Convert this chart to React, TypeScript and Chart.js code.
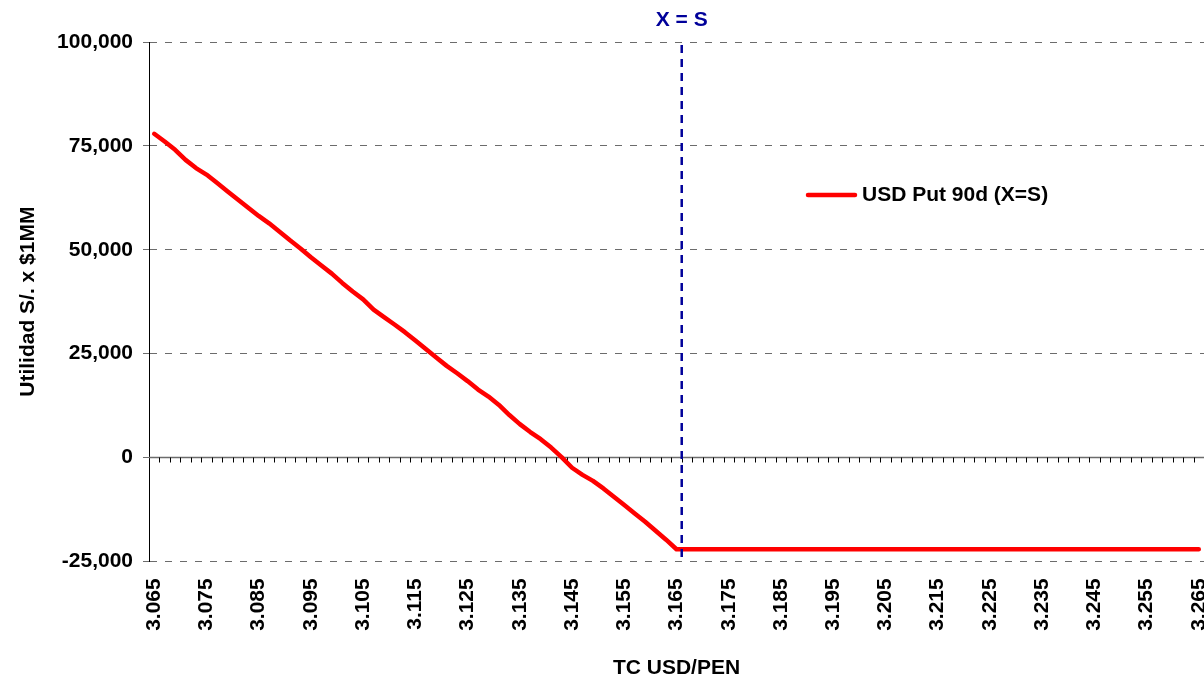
import React, { useEffect, useRef } from "react";
import { Chart, registerables } from "chart.js";

Chart.register(...registerables);

const FONT = "'Liberation Sans', Arial, Helvetica, sans-serif";

// Exchange rate grid (TC USD/PEN), one point every 0.002
const TC_LABELS = [
  "3.065", "3.067", "3.069", "3.071", "3.073", "3.075", "3.077", "3.079", "3.081", "3.083",
  "3.085", "3.087", "3.089", "3.091", "3.093", "3.095", "3.097", "3.099", "3.101", "3.103",
  "3.105", "3.107", "3.109", "3.111", "3.113", "3.115", "3.117", "3.119", "3.121", "3.123",
  "3.125", "3.127", "3.129", "3.131", "3.133", "3.135", "3.137", "3.139", "3.141", "3.143",
  "3.145", "3.147", "3.149", "3.151", "3.153", "3.155", "3.157", "3.159", "3.161", "3.163",
  "3.165", "3.167", "3.169", "3.171", "3.173", "3.175", "3.177", "3.179", "3.181", "3.183",
  "3.185", "3.187", "3.189", "3.191", "3.193", "3.195", "3.197", "3.199", "3.201", "3.203",
  "3.205", "3.207", "3.209", "3.211", "3.213", "3.215", "3.217", "3.219", "3.221", "3.223",
  "3.225", "3.227", "3.229", "3.231", "3.233", "3.235", "3.237", "3.239", "3.241", "3.243",
  "3.245", "3.247", "3.249", "3.251", "3.253", "3.255", "3.257", "3.259", "3.261", "3.263",
  "3.265",
];

// Profit in soles per USD 1MM notional
const UTILIDAD = [
  77900, 76050, 74060, 71630, 69650, 68090, 66120, 64100, 62100, 60080,
  58130, 56350, 54350, 52260, 50300, 48170, 46200, 44250, 42010, 39940,
  38060, 35580, 33760, 32000, 30150, 28150, 26080, 24040, 22040, 20260,
  18380, 16340, 14650, 12630, 10200, 8010, 6110, 4400, 2380, 70,
  -2480, -4190, -5630, -7460, -9460, -11450, -13470, -15470, -17650, -19800,
  -22100, -22100, -22100, -22100, -22100, -22100, -22100, -22100, -22100, -22100,
  -22100, -22100, -22100, -22100, -22100, -22100, -22100, -22100, -22100, -22100,
  -22100, -22100, -22100, -22100, -22100, -22100, -22100, -22100, -22100, -22100,
  -22100, -22100, -22100, -22100, -22100, -22100, -22100, -22100, -22100, -22100,
  -22100, -22100, -22100, -22100, -22100, -22100, -22100, -22100, -22100, -22100,
  -22100,
];

const Y_TICKS = [-25000, 0, 25000, 50000, 75000, 100000];
const SERIES_NAME = "USD Put 90d (X=S)";
const STRIKE_LABEL = "3.165";
const STRIKE_TEXT = "X = S";
const X_TITLE = "TC USD/PEN";
const Y_TITLE = "Utilidad S/. x $1MM";
const LABEL_EVERY = 5;

const RED = "#ff0000";
const NAVY = "#00009a";
const GRID_GREY = "#6c6c6c";

// Horizontal axis crossing at zero, with small tick marks between categories
const zeroAxisPlugin = {
  id: "zeroAxis",
  beforeDatasetsDraw(chart: any) {
    const { ctx, chartArea, scales } = chart;
    const x = scales.x;
    const y = scales.y;
    const y0 = Math.round(y.getPixelForValue(0)) + 0.5;
    ctx.save();
    ctx.strokeStyle = "#6c6c6c";
    ctx.lineWidth = 1.5;
    ctx.beginPath();
    ctx.moveTo(chartArea.left, y0);
    ctx.lineTo(chartArea.right, y0);
    ctx.stroke();
    ctx.strokeStyle = "#000000";
    ctx.lineWidth = 1;
    ctx.beginPath();
    for (let i = 1; i < TC_LABELS.length; i++) {
      const px = Math.round(x.getPixelForValue(i - 0.5)) + 0.5;
      ctx.moveTo(px, y0);
      ctx.lineTo(px, y0 + 5);
    }
    ctx.stroke();
    ctx.restore();
  },
};

// Vertical dashed marker at the strike (X = S)
const strikePlugin = {
  id: "strikeLine",
  afterDatasetsDraw(chart: any) {
    const { ctx, chartArea, scales } = chart;
    const idx = TC_LABELS.indexOf(STRIKE_LABEL);
    const px = scales.x.getPixelForValue(idx + 0.5);
    ctx.save();
    ctx.strokeStyle = NAVY;
    ctx.lineWidth = 2.5;
    ctx.setLineDash([8, 6]);
    ctx.beginPath();
    ctx.moveTo(px, chartArea.top + 3);
    ctx.lineTo(px, chartArea.bottom);
    ctx.stroke();
    ctx.setLineDash([]);
    ctx.fillStyle = NAVY;
    ctx.font = `bold 21px ${FONT}`;
    ctx.textAlign = "center";
    ctx.textBaseline = "middle";
    ctx.fillText(STRIKE_TEXT, px, 20);
    ctx.restore();
  },
};

// Legend entry placed inside the plot area
const insideLegendPlugin = {
  id: "insideLegend",
  afterDraw(chart: any) {
    const { ctx } = chart;
    const ds = chart.data.datasets[0];
    const yMid = 195;
    ctx.save();
    ctx.strokeStyle = ds.borderColor;
    ctx.lineWidth = 4.5;
    ctx.lineCap = "round";
    ctx.beginPath();
    ctx.moveTo(808, yMid);
    ctx.lineTo(855, yMid);
    ctx.stroke();
    ctx.fillStyle = "#000000";
    ctx.font = `bold 21px ${FONT}`;
    ctx.textAlign = "left";
    ctx.textBaseline = "middle";
    ctx.fillText(ds.label, 862, yMid);
    ctx.restore();
  },
};

export default function App() {
  const ref = useRef<HTMLCanvasElement>(null);

  useEffect(() => {
    if (!ref.current) return;
    const tickFont = { family: FONT, size: 21, weight: "bold" as const };
    const titleFont = { family: FONT, size: 21, weight: "bold" as const, lineHeight: 1 };

    const chart = new Chart(ref.current, {
      type: "line",
      data: {
        labels: TC_LABELS,
        datasets: [
          {
            label: SERIES_NAME,
            data: UTILIDAD,
            borderColor: RED,
            backgroundColor: RED,
            borderWidth: 4.5,
            pointRadius: 0,
            pointHoverRadius: 0,
            tension: 0,
            fill: false,
            borderJoinStyle: "round",
            borderCapStyle: "round",
          },
        ],
      },
      options: {
        responsive: false,
        animation: false,
        devicePixelRatio: 1,
        layout: { padding: { top: 42, right: 0, bottom: 0, left: 0 } },
        plugins: {
          legend: { display: false },
          tooltip: { enabled: false },
          title: { display: false },
        },
        scales: {
          x: {
            type: "category",
            offset: true,
            afterFit: (s: any) => {
              s.height = 117.7;
              s.paddingLeft = 0;
              s.paddingRight = 0;
            },
            grid: { display: false, drawTicks: false },
            border: { display: false },
            ticks: {
              autoSkip: false,
              minRotation: 90,
              maxRotation: 90,
              padding: 17,
              color: "#000000",
              font: tickFont,
              callback: function (this: any, val: any, idx: number) {
                return idx % LABEL_EVERY === 0 ? this.getLabelForValue(val) : "";
              },
            },
            title: {
              display: true,
              text: X_TITLE,
              color: "#000000",
              font: titleFont,
              padding: { top: 0, bottom: 0.6 },
            },
          },
          y: {
            min: Y_TICKS[0],
            max: Y_TICKS[Y_TICKS.length - 1],
            afterBuildTicks: (s: any) => {
              s.ticks = Y_TICKS.map((v) => ({ value: v }));
            },
            afterFit: (s: any) => {
              s.width = 149;
            },
            grid: {
              color: (c: any) => (c.tick && c.tick.value === 0 ? "rgba(0,0,0,0)" : GRID_GREY),
              lineWidth: 1,
              drawTicks: true,
              tickLength: 6,
              tickColor: GRID_GREY,
              tickWidth: 1,
            },
            border: { display: true, color: "#000000", width: 1, dash: [7, 8] },
            ticks: {
              color: "#000000",
              font: tickFont,
              padding: 10,
              callback: (v: any) => Number(v).toLocaleString("en-US"),
            },
            title: {
              display: true,
              text: Y_TITLE,
              color: "#000000",
              font: titleFont,
              padding: { top: 18, bottom: 0 },
            },
          },
        },
      },
      plugins: [zeroAxisPlugin, strikePlugin, insideLegendPlugin],
    } as any);

    return () => chart.destroy();
  }, []);

  return (
    <div
      style={{
        position: "fixed",
        left: 0,
        top: 0,
        width: 1204,
        height: 679,
        background: "#ffffff",
      }}
    >
      <canvas
        ref={ref}
        width={1204}
        height={679}
        style={{ display: "block", width: 1204, height: 679 }}
      />
    </div>
  );
}
